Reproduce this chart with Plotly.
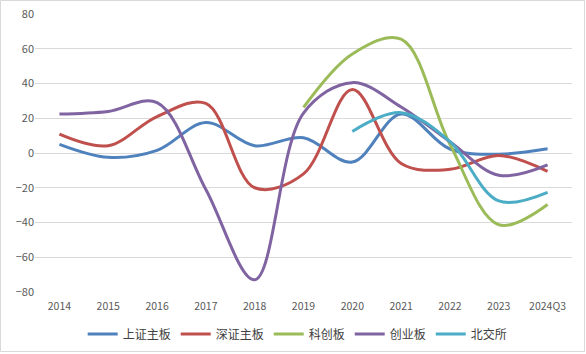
import plotly.graph_objects as go

categories = ["2014", "2015", "2016", "2017", "2018", "2019", "2020", "2021", "2022", "2023", "2024Q3"]
sh_main = [5, -2.5, 1.5, 17.5, 4.2, 8.8, -5.2, 22.5, 2.3, -0.7, 2.4]
sz_main = [10.8, 4.2, 21, 28.5, -20, -12, 36.5, -6, -9.4, -1.4, -10.6]
star = [None, None, None, None, None, 26.2, 57, 65.5, 5, -41.3, -29.6]
chinext = [22.4, 23.9, 29, -21, -73, 23, 40.5, 26.5, 6.5, -12.8, -6.8]
bse = [None, None, None, None, None, None, 12.4, 23.2, 6.5, -27.6, -22.6]

names = ["上证主板", "深证主板", "科创板", "创业板", "北交所"]
series = [sh_main, sz_main, star, chinext, bse]
colors = ["#4F81BD", "#C0504D", "#9BBB59", "#8064A2", "#4BACC6"]

fig = go.Figure()
for n, s, c in zip(names, series, colors):
    fig.add_trace(go.Scatter(
        x=categories, y=s, name=n, mode="lines",
        line=dict(color=c, width=3, shape="spline", smoothing=1),
        connectgaps=False,
    ))

W, H = 586, 354
L, R, T, B = 35, 14, 14, 62
pw, ph = W - L - R, H - T - B

fig.update_layout(
    template="none",
    width=W, height=H,
    margin=dict(l=L, r=R, t=T, b=B),
    paper_bgcolor="white", plot_bgcolor="white",
    font=dict(family="Noto Sans CJK SC, sans-serif", color="#595959", size=11),
    showlegend=True,
    legend=dict(orientation="h", xref="container", yref="container",
                x=0.508, xanchor="center", y=(H - 334) / H, yanchor="middle",
                font=dict(size=12, color="#404040"), itemwidth=30, tracegroupgap=0,
                bgcolor="rgba(0,0,0,0)"),
    xaxis=dict(type="category", showgrid=False, zeroline=False, showline=False, automargin=False,
               ticks="", ticklabelstandoff=6,
               tickfont=dict(size=10.5, color="#595959"), range=[-0.5, 10.5]),
    yaxis=dict(range=[-80, 80], dtick=20, showgrid=True, gridcolor="#D9D9D9", gridwidth=1,
               zeroline=False, showline=False, ticks="", automargin=False,
               tickfont=dict(size=11, color="#595959")),
    shapes=[dict(type="rect", xref="paper", yref="paper",
                 x0=(0.5 - L) / pw, x1=(W - 1.5 - L) / pw,
                 y0=(H - B - (H - 2.5)) / ph, y1=(H - B - 0.5) / ph,
                 line=dict(color="#D9D9D9", width=1), layer="below")],
)

fig.write_html("out.html")
